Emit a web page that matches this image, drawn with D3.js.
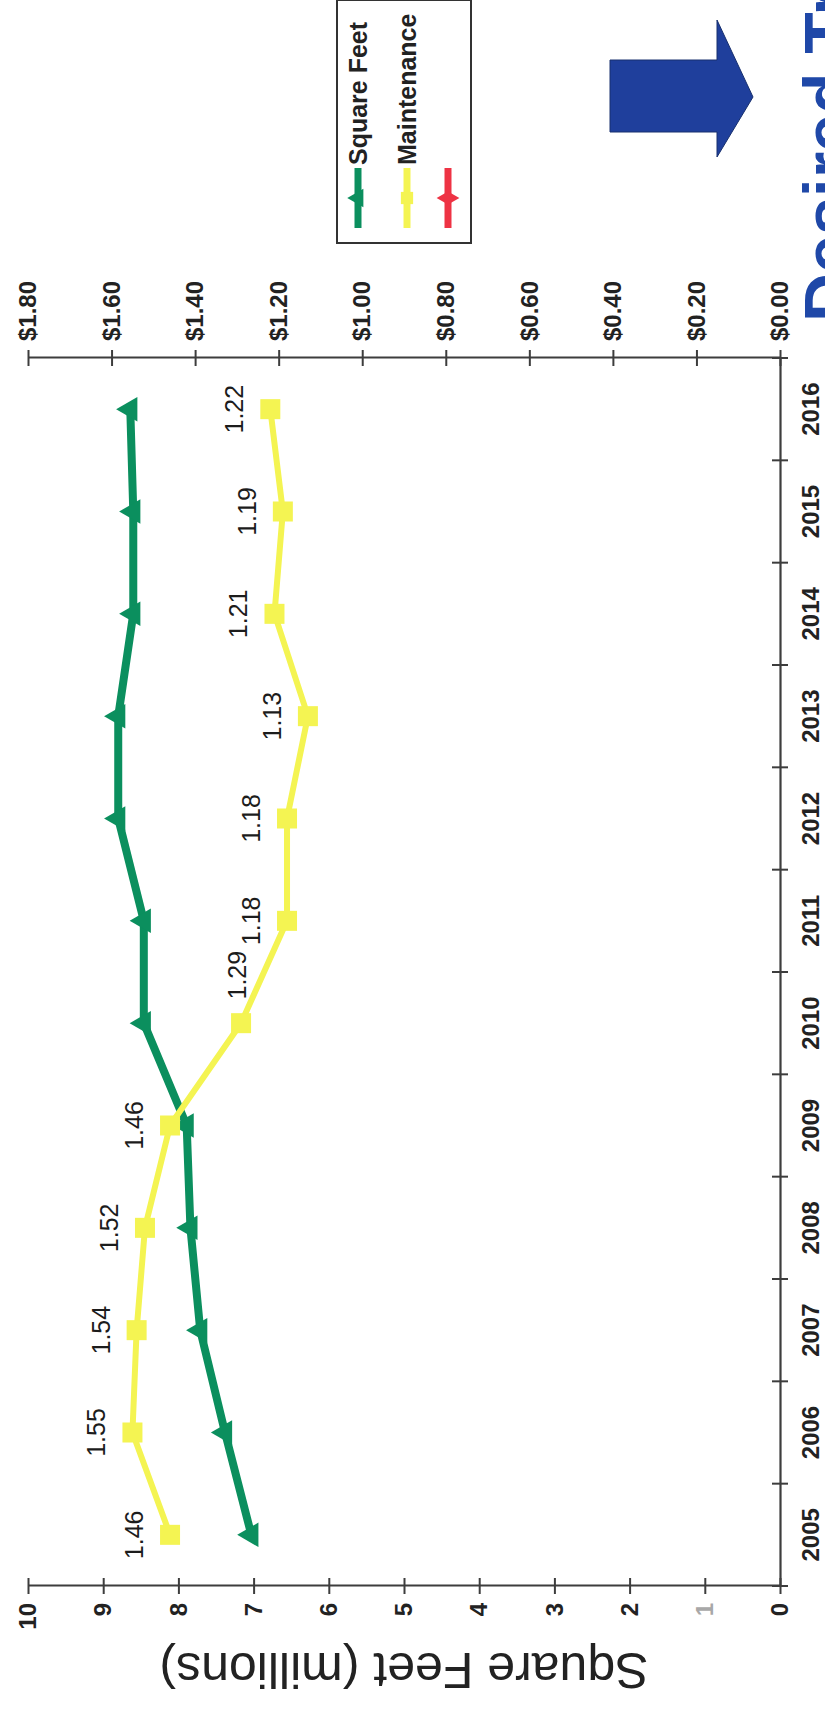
<!DOCTYPE html>
<html>
<head>
<meta charset="utf-8">
<script src="https://cdn.jsdelivr.net/npm/d3@7"></script>
<style>
  html, body { margin: 0; padding: 0; background: #fff; }
  svg { display: block; }
  text { font-family: "Liberation Sans", Arial, sans-serif; }
</style>
</head>
<body>
<svg id="chart" width="825" height="1726"></svg>
<script>
// Facilities trend: building area (millions of sq ft) and maintenance cost per sq ft
const years = [2005, 2006, 2007, 2008, 2009, 2010, 2011, 2012, 2013, 2014, 2015, 2016];
const squareFeet = [7.03, 7.38, 7.71, 7.84, 7.89, 8.46, 8.46, 8.8, 8.8, 8.6, 8.6, 8.64];
const maintenance = [1.46, 1.55, 1.54, 1.52, 1.46, 1.29, 1.18, 1.18, 1.13, 1.21, 1.19, 1.22];
const sqftTicks = [0, 1, 2, 3, 4, 5, 6, 7, 8, 9, 10];
const costTicks = [0, 0.2, 0.4, 0.6, 0.8, 1.0, 1.2, 1.4, 1.6, 1.8];
const seriesNames = ["Square Feet", "Maintenance", ""];
const seriesColors = ["#0b8f5e", "#f4f452", "#ee3344"];
const axisTitle = "Square Feet (millions)";
const calloutText = "Desired Trend";
// label placement per point: "above" unless noted
const labelSide = ["above", "above", "above", "above", "above", "right", "above", "above", "above", "above", "above", "above"];

const svg = d3.select("#chart");
svg.append("rect").attr("width", 825).attr("height", 1726).attr("fill", "#fff");

// The chart is laid out in its own frame and turned a quarter turn on the page.
const W = 1228, H = 752;
const g = svg.append("g").attr("transform", "translate(28,1586) rotate(-90)");

const x = d3.scaleBand().domain(years).range([0, W]);
const ySq = d3.scaleLinear().domain([0, 10]).range([H, 0]);
const yCost = d3.scaleLinear().domain([0, 1.8]).range([H, 0]);

const axisColor = "#3d3d3d";
const tickFont = "bold 24px 'Liberation Sans', Arial, sans-serif";

// Square-feet axis
const leftAxis = g.append("g")
  .call(d3.axisLeft(ySq).tickValues(sqftTicks).tickSize(8).tickSizeOuter(0).tickPadding(9).tickFormat(d3.format("d")));
// Cost axis
const rightAxis = g.append("g").attr("transform", `translate(${W},0)`)
  .call(d3.axisRight(yCost).tickValues(costTicks).tickSize(8).tickSizeOuter(0).tickPadding(9)
    .tickFormat(d => "$" + d.toFixed(2)));
// Year axis
const bottomAxis = g.append("g").attr("transform", `translate(0,${H})`)
  .call(d3.axisBottom(x).tickSize(0).tickSizeOuter(0).tickPadding(22));

[leftAxis, rightAxis, bottomAxis].forEach(a => {
  a.select(".domain").attr("stroke", axisColor).attr("stroke-width", 2.2);
  a.selectAll(".tick line").attr("stroke", axisColor).attr("stroke-width", 2);
  a.selectAll(".tick text").attr("fill", "#222").style("font", tickFont);
});
// ticks cross the axis line on both sides
leftAxis.selectAll(".tick line").attr("x1", 8);
rightAxis.selectAll(".tick line").attr("x1", -8);
// the "1" label is printed faintly
leftAxis.selectAll(".tick text").filter(d => d === 1).attr("fill", "#a8a8a8");

// year boundary ticks
const edges = years.map(d => x(d)).concat([W]);
bottomAxis.selectAll(".edge").data(edges).join("line")
  .attr("x1", d => d).attr("x2", d => d)
  .attr("y1", -8).attr("y2", 8)
  .attr("stroke", axisColor).attr("stroke-width", 2);

// axis title
g.append("text")
  .attr("transform", `translate(-84,${H / 2}) rotate(-90)`)
  .attr("text-anchor", "middle")
  .attr("dominant-baseline", "central")
  .attr("fill", "#222")
  .style("font", "50px 'Liberation Sans', Arial, sans-serif")
  .text(axisTitle);

const cx = d => x(d) + x.bandwidth() / 2;

// Square feet series
const sqData = years.map((yr, i) => ({ yr, v: squareFeet[i] }));
g.append("path").datum(sqData)
  .attr("fill", "none").attr("stroke", seriesColors[0]).attr("stroke-width", 8)
  .attr("stroke-linejoin", "round")
  .attr("d", d3.line().x(d => cx(d.yr)).y(d => ySq(d.v)));
const tri = d3.symbol().type(d3.symbolTriangle).size(260);
g.selectAll(".sq-mark").data(sqData).join("path")
  .attr("transform", d => `translate(${cx(d.yr)},${ySq(d.v)})`)
  .attr("d", tri).attr("fill", seriesColors[0]);

// Maintenance series
const mData = years.map((yr, i) => ({ yr, v: maintenance[i], side: labelSide[i] }));
g.append("path").datum(mData)
  .attr("fill", "none").attr("stroke", seriesColors[1]).attr("stroke-width", 6)
  .attr("stroke-linejoin", "round")
  .attr("d", d3.line().x(d => cx(d.yr)).y(d => yCost(d.v)));
g.selectAll(".m-mark").data(mData).join("rect")
  .attr("x", d => cx(d.yr) - 10).attr("y", d => yCost(d.v) - 10)
  .attr("width", 20).attr("height", 20).attr("fill", seriesColors[1]);

// value labels
g.selectAll(".m-label").data(mData).join("text")
  .attr("x", d => cx(d.yr) + (d.side === "right" ? 48 : 0))
  .attr("y", d => yCost(d.v) + (d.side === "right" ? -4 : -36))
  .attr("text-anchor", "middle").attr("dominant-baseline", "central")
  .attr("fill", "#1c1c1c")
  .style("font", "25px 'Liberation Sans', Arial, sans-serif")
  .text(d => d.v.toFixed(2));

// legend
const lg = g.append("g").attr("transform", "translate(1343,309)");
lg.append("rect").attr("width", 243).attr("height", 134)
  .attr("fill", "#fff").attr("stroke", "#333").attr("stroke-width", 2);
const rows = lg.selectAll(".row").data(seriesNames).join("g")
  .attr("transform", (d, i) => `translate(0,${[21, 70, 111][i]})`);
rows.append("line").attr("x1", 15).attr("x2", 75)
  .attr("stroke", (d, i) => seriesColors[i]).attr("stroke-width", 7);
rows.append("path")
  .attr("transform", "translate(45,0)")
  .attr("d", (d, i) => d3.symbol().type([d3.symbolTriangle, d3.symbolSquare, d3.symbolDiamond][i]).size(150)())
  .attr("fill", (d, i) => seriesColors[i]);
rows.append("text").attr("x", 78).attr("dominant-baseline", "central")
  .attr("fill", "#222").style("font", "bold 25px 'Liberation Sans', Arial, sans-serif")
  .text(d => d);

// callout arrow and text
svg.append("path")
  .attr("d", "M610,60 L717,60 L717,20 L753,97 L717,157 L717,132 L610,132 Z")
  .attr("fill", "#1f3f9c").attr("stroke", "#18306e").attr("stroke-width", 1);
svg.append("text")
  .attr("transform", "translate(852,322) rotate(-90)")
  .attr("fill", "#1f48a8")
  .style("font", "bold 68px 'Liberation Sans', Arial, sans-serif")
  .text(calloutText);
</script>
</body>
</html>
